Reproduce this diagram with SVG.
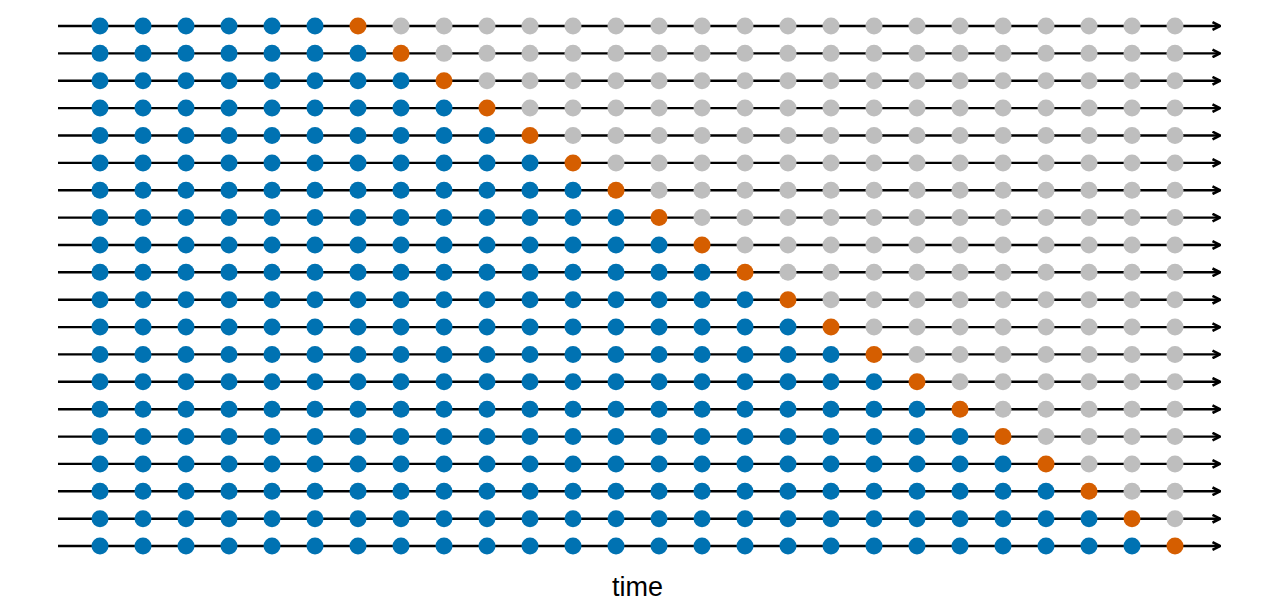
<svg xmlns="http://www.w3.org/2000/svg" width="1277" height="600" viewBox="0 0 1277 600">
<style>
.b{fill:#0072B2}.o{fill:#D55E00}.g{fill:#BEBEBE}
circle{r:8.5px}
.ln{stroke:#000;stroke-width:2.4;fill:none;marker-end:url(#ah)}
text{font-family:"Liberation Sans",Arial,sans-serif;font-size:27px;fill:#000}
</style>
<defs>
<marker id="ah" viewBox="0 0 10 10" refX="9" refY="5" markerWidth="10" markerHeight="10" markerUnits="userSpaceOnUse" orient="auto">
<path d="M1.5,1.2 L9,5 L1.5,8.8" fill="none" stroke="#000" stroke-width="2.6" stroke-linejoin="miter"/>
</marker>
</defs>
<rect width="1277" height="600" fill="#fff"/>
<g id="connectors">
<line class="ln" x1="58" y1="26" x2="1220" y2="26"/>
<line class="ln" x1="58" y1="53.37" x2="1220" y2="53.37"/>
<line class="ln" x1="58" y1="80.74" x2="1220" y2="80.74"/>
<line class="ln" x1="58" y1="108.1" x2="1220" y2="108.1"/>
<line class="ln" x1="58" y1="135.5" x2="1220" y2="135.5"/>
<line class="ln" x1="58" y1="162.9" x2="1220" y2="162.9"/>
<line class="ln" x1="58" y1="190.2" x2="1220" y2="190.2"/>
<line class="ln" x1="58" y1="217.6" x2="1220" y2="217.6"/>
<line class="ln" x1="58" y1="245" x2="1220" y2="245"/>
<line class="ln" x1="58" y1="272.3" x2="1220" y2="272.3"/>
<line class="ln" x1="58" y1="299.7" x2="1220" y2="299.7"/>
<line class="ln" x1="58" y1="327.1" x2="1220" y2="327.1"/>
<line class="ln" x1="58" y1="354.4" x2="1220" y2="354.4"/>
<line class="ln" x1="58" y1="381.8" x2="1220" y2="381.8"/>
<line class="ln" x1="58" y1="409.2" x2="1220" y2="409.2"/>
<line class="ln" x1="58" y1="436.6" x2="1220" y2="436.6"/>
<line class="ln" x1="58" y1="463.9" x2="1220" y2="463.9"/>
<line class="ln" x1="58" y1="491.3" x2="1220" y2="491.3"/>
<line class="ln" x1="58" y1="518.7" x2="1220" y2="518.7"/>
<line class="ln" x1="58" y1="546" x2="1220" y2="546"/>
</g>
<g id="row1" transform="translate(0,26)">
<circle class="b" cx="100" cy="0"/><circle class="b" cx="143" cy="0"/><circle class="b" cx="186" cy="0"/><circle class="b" cx="229" cy="0"/><circle class="b" cx="272" cy="0"/><circle class="b" cx="315" cy="0"/><circle class="o" cx="358" cy="0"/><circle class="g" cx="401" cy="0"/><circle class="g" cx="444" cy="0"/><circle class="g" cx="487" cy="0"/><circle class="g" cx="530" cy="0"/><circle class="g" cx="573" cy="0"/><circle class="g" cx="616" cy="0"/><circle class="g" cx="659" cy="0"/><circle class="g" cx="702" cy="0"/><circle class="g" cx="745" cy="0"/><circle class="g" cx="788" cy="0"/><circle class="g" cx="831" cy="0"/><circle class="g" cx="874" cy="0"/><circle class="g" cx="917" cy="0"/><circle class="g" cx="960" cy="0"/><circle class="g" cx="1003" cy="0"/><circle class="g" cx="1046" cy="0"/><circle class="g" cx="1089" cy="0"/><circle class="g" cx="1132" cy="0"/><circle class="g" cx="1175" cy="0"/>
</g>
<g id="row2" transform="translate(0,53.37)">
<circle class="b" cx="100" cy="0"/><circle class="b" cx="143" cy="0"/><circle class="b" cx="186" cy="0"/><circle class="b" cx="229" cy="0"/><circle class="b" cx="272" cy="0"/><circle class="b" cx="315" cy="0"/><circle class="b" cx="358" cy="0"/><circle class="o" cx="401" cy="0"/><circle class="g" cx="444" cy="0"/><circle class="g" cx="487" cy="0"/><circle class="g" cx="530" cy="0"/><circle class="g" cx="573" cy="0"/><circle class="g" cx="616" cy="0"/><circle class="g" cx="659" cy="0"/><circle class="g" cx="702" cy="0"/><circle class="g" cx="745" cy="0"/><circle class="g" cx="788" cy="0"/><circle class="g" cx="831" cy="0"/><circle class="g" cx="874" cy="0"/><circle class="g" cx="917" cy="0"/><circle class="g" cx="960" cy="0"/><circle class="g" cx="1003" cy="0"/><circle class="g" cx="1046" cy="0"/><circle class="g" cx="1089" cy="0"/><circle class="g" cx="1132" cy="0"/><circle class="g" cx="1175" cy="0"/>
</g>
<g id="row3" transform="translate(0,80.74)">
<circle class="b" cx="100" cy="0"/><circle class="b" cx="143" cy="0"/><circle class="b" cx="186" cy="0"/><circle class="b" cx="229" cy="0"/><circle class="b" cx="272" cy="0"/><circle class="b" cx="315" cy="0"/><circle class="b" cx="358" cy="0"/><circle class="b" cx="401" cy="0"/><circle class="o" cx="444" cy="0"/><circle class="g" cx="487" cy="0"/><circle class="g" cx="530" cy="0"/><circle class="g" cx="573" cy="0"/><circle class="g" cx="616" cy="0"/><circle class="g" cx="659" cy="0"/><circle class="g" cx="702" cy="0"/><circle class="g" cx="745" cy="0"/><circle class="g" cx="788" cy="0"/><circle class="g" cx="831" cy="0"/><circle class="g" cx="874" cy="0"/><circle class="g" cx="917" cy="0"/><circle class="g" cx="960" cy="0"/><circle class="g" cx="1003" cy="0"/><circle class="g" cx="1046" cy="0"/><circle class="g" cx="1089" cy="0"/><circle class="g" cx="1132" cy="0"/><circle class="g" cx="1175" cy="0"/>
</g>
<g id="row4" transform="translate(0,108.1)">
<circle class="b" cx="100" cy="0"/><circle class="b" cx="143" cy="0"/><circle class="b" cx="186" cy="0"/><circle class="b" cx="229" cy="0"/><circle class="b" cx="272" cy="0"/><circle class="b" cx="315" cy="0"/><circle class="b" cx="358" cy="0"/><circle class="b" cx="401" cy="0"/><circle class="b" cx="444" cy="0"/><circle class="o" cx="487" cy="0"/><circle class="g" cx="530" cy="0"/><circle class="g" cx="573" cy="0"/><circle class="g" cx="616" cy="0"/><circle class="g" cx="659" cy="0"/><circle class="g" cx="702" cy="0"/><circle class="g" cx="745" cy="0"/><circle class="g" cx="788" cy="0"/><circle class="g" cx="831" cy="0"/><circle class="g" cx="874" cy="0"/><circle class="g" cx="917" cy="0"/><circle class="g" cx="960" cy="0"/><circle class="g" cx="1003" cy="0"/><circle class="g" cx="1046" cy="0"/><circle class="g" cx="1089" cy="0"/><circle class="g" cx="1132" cy="0"/><circle class="g" cx="1175" cy="0"/>
</g>
<g id="row5" transform="translate(0,135.5)">
<circle class="b" cx="100" cy="0"/><circle class="b" cx="143" cy="0"/><circle class="b" cx="186" cy="0"/><circle class="b" cx="229" cy="0"/><circle class="b" cx="272" cy="0"/><circle class="b" cx="315" cy="0"/><circle class="b" cx="358" cy="0"/><circle class="b" cx="401" cy="0"/><circle class="b" cx="444" cy="0"/><circle class="b" cx="487" cy="0"/><circle class="o" cx="530" cy="0"/><circle class="g" cx="573" cy="0"/><circle class="g" cx="616" cy="0"/><circle class="g" cx="659" cy="0"/><circle class="g" cx="702" cy="0"/><circle class="g" cx="745" cy="0"/><circle class="g" cx="788" cy="0"/><circle class="g" cx="831" cy="0"/><circle class="g" cx="874" cy="0"/><circle class="g" cx="917" cy="0"/><circle class="g" cx="960" cy="0"/><circle class="g" cx="1003" cy="0"/><circle class="g" cx="1046" cy="0"/><circle class="g" cx="1089" cy="0"/><circle class="g" cx="1132" cy="0"/><circle class="g" cx="1175" cy="0"/>
</g>
<g id="row6" transform="translate(0,162.9)">
<circle class="b" cx="100" cy="0"/><circle class="b" cx="143" cy="0"/><circle class="b" cx="186" cy="0"/><circle class="b" cx="229" cy="0"/><circle class="b" cx="272" cy="0"/><circle class="b" cx="315" cy="0"/><circle class="b" cx="358" cy="0"/><circle class="b" cx="401" cy="0"/><circle class="b" cx="444" cy="0"/><circle class="b" cx="487" cy="0"/><circle class="b" cx="530" cy="0"/><circle class="o" cx="573" cy="0"/><circle class="g" cx="616" cy="0"/><circle class="g" cx="659" cy="0"/><circle class="g" cx="702" cy="0"/><circle class="g" cx="745" cy="0"/><circle class="g" cx="788" cy="0"/><circle class="g" cx="831" cy="0"/><circle class="g" cx="874" cy="0"/><circle class="g" cx="917" cy="0"/><circle class="g" cx="960" cy="0"/><circle class="g" cx="1003" cy="0"/><circle class="g" cx="1046" cy="0"/><circle class="g" cx="1089" cy="0"/><circle class="g" cx="1132" cy="0"/><circle class="g" cx="1175" cy="0"/>
</g>
<g id="row7" transform="translate(0,190.2)">
<circle class="b" cx="100" cy="0"/><circle class="b" cx="143" cy="0"/><circle class="b" cx="186" cy="0"/><circle class="b" cx="229" cy="0"/><circle class="b" cx="272" cy="0"/><circle class="b" cx="315" cy="0"/><circle class="b" cx="358" cy="0"/><circle class="b" cx="401" cy="0"/><circle class="b" cx="444" cy="0"/><circle class="b" cx="487" cy="0"/><circle class="b" cx="530" cy="0"/><circle class="b" cx="573" cy="0"/><circle class="o" cx="616" cy="0"/><circle class="g" cx="659" cy="0"/><circle class="g" cx="702" cy="0"/><circle class="g" cx="745" cy="0"/><circle class="g" cx="788" cy="0"/><circle class="g" cx="831" cy="0"/><circle class="g" cx="874" cy="0"/><circle class="g" cx="917" cy="0"/><circle class="g" cx="960" cy="0"/><circle class="g" cx="1003" cy="0"/><circle class="g" cx="1046" cy="0"/><circle class="g" cx="1089" cy="0"/><circle class="g" cx="1132" cy="0"/><circle class="g" cx="1175" cy="0"/>
</g>
<g id="row8" transform="translate(0,217.6)">
<circle class="b" cx="100" cy="0"/><circle class="b" cx="143" cy="0"/><circle class="b" cx="186" cy="0"/><circle class="b" cx="229" cy="0"/><circle class="b" cx="272" cy="0"/><circle class="b" cx="315" cy="0"/><circle class="b" cx="358" cy="0"/><circle class="b" cx="401" cy="0"/><circle class="b" cx="444" cy="0"/><circle class="b" cx="487" cy="0"/><circle class="b" cx="530" cy="0"/><circle class="b" cx="573" cy="0"/><circle class="b" cx="616" cy="0"/><circle class="o" cx="659" cy="0"/><circle class="g" cx="702" cy="0"/><circle class="g" cx="745" cy="0"/><circle class="g" cx="788" cy="0"/><circle class="g" cx="831" cy="0"/><circle class="g" cx="874" cy="0"/><circle class="g" cx="917" cy="0"/><circle class="g" cx="960" cy="0"/><circle class="g" cx="1003" cy="0"/><circle class="g" cx="1046" cy="0"/><circle class="g" cx="1089" cy="0"/><circle class="g" cx="1132" cy="0"/><circle class="g" cx="1175" cy="0"/>
</g>
<g id="row9" transform="translate(0,245)">
<circle class="b" cx="100" cy="0"/><circle class="b" cx="143" cy="0"/><circle class="b" cx="186" cy="0"/><circle class="b" cx="229" cy="0"/><circle class="b" cx="272" cy="0"/><circle class="b" cx="315" cy="0"/><circle class="b" cx="358" cy="0"/><circle class="b" cx="401" cy="0"/><circle class="b" cx="444" cy="0"/><circle class="b" cx="487" cy="0"/><circle class="b" cx="530" cy="0"/><circle class="b" cx="573" cy="0"/><circle class="b" cx="616" cy="0"/><circle class="b" cx="659" cy="0"/><circle class="o" cx="702" cy="0"/><circle class="g" cx="745" cy="0"/><circle class="g" cx="788" cy="0"/><circle class="g" cx="831" cy="0"/><circle class="g" cx="874" cy="0"/><circle class="g" cx="917" cy="0"/><circle class="g" cx="960" cy="0"/><circle class="g" cx="1003" cy="0"/><circle class="g" cx="1046" cy="0"/><circle class="g" cx="1089" cy="0"/><circle class="g" cx="1132" cy="0"/><circle class="g" cx="1175" cy="0"/>
</g>
<g id="row10" transform="translate(0,272.3)">
<circle class="b" cx="100" cy="0"/><circle class="b" cx="143" cy="0"/><circle class="b" cx="186" cy="0"/><circle class="b" cx="229" cy="0"/><circle class="b" cx="272" cy="0"/><circle class="b" cx="315" cy="0"/><circle class="b" cx="358" cy="0"/><circle class="b" cx="401" cy="0"/><circle class="b" cx="444" cy="0"/><circle class="b" cx="487" cy="0"/><circle class="b" cx="530" cy="0"/><circle class="b" cx="573" cy="0"/><circle class="b" cx="616" cy="0"/><circle class="b" cx="659" cy="0"/><circle class="b" cx="702" cy="0"/><circle class="o" cx="745" cy="0"/><circle class="g" cx="788" cy="0"/><circle class="g" cx="831" cy="0"/><circle class="g" cx="874" cy="0"/><circle class="g" cx="917" cy="0"/><circle class="g" cx="960" cy="0"/><circle class="g" cx="1003" cy="0"/><circle class="g" cx="1046" cy="0"/><circle class="g" cx="1089" cy="0"/><circle class="g" cx="1132" cy="0"/><circle class="g" cx="1175" cy="0"/>
</g>
<g id="row11" transform="translate(0,299.7)">
<circle class="b" cx="100" cy="0"/><circle class="b" cx="143" cy="0"/><circle class="b" cx="186" cy="0"/><circle class="b" cx="229" cy="0"/><circle class="b" cx="272" cy="0"/><circle class="b" cx="315" cy="0"/><circle class="b" cx="358" cy="0"/><circle class="b" cx="401" cy="0"/><circle class="b" cx="444" cy="0"/><circle class="b" cx="487" cy="0"/><circle class="b" cx="530" cy="0"/><circle class="b" cx="573" cy="0"/><circle class="b" cx="616" cy="0"/><circle class="b" cx="659" cy="0"/><circle class="b" cx="702" cy="0"/><circle class="b" cx="745" cy="0"/><circle class="o" cx="788" cy="0"/><circle class="g" cx="831" cy="0"/><circle class="g" cx="874" cy="0"/><circle class="g" cx="917" cy="0"/><circle class="g" cx="960" cy="0"/><circle class="g" cx="1003" cy="0"/><circle class="g" cx="1046" cy="0"/><circle class="g" cx="1089" cy="0"/><circle class="g" cx="1132" cy="0"/><circle class="g" cx="1175" cy="0"/>
</g>
<g id="row12" transform="translate(0,327.1)">
<circle class="b" cx="100" cy="0"/><circle class="b" cx="143" cy="0"/><circle class="b" cx="186" cy="0"/><circle class="b" cx="229" cy="0"/><circle class="b" cx="272" cy="0"/><circle class="b" cx="315" cy="0"/><circle class="b" cx="358" cy="0"/><circle class="b" cx="401" cy="0"/><circle class="b" cx="444" cy="0"/><circle class="b" cx="487" cy="0"/><circle class="b" cx="530" cy="0"/><circle class="b" cx="573" cy="0"/><circle class="b" cx="616" cy="0"/><circle class="b" cx="659" cy="0"/><circle class="b" cx="702" cy="0"/><circle class="b" cx="745" cy="0"/><circle class="b" cx="788" cy="0"/><circle class="o" cx="831" cy="0"/><circle class="g" cx="874" cy="0"/><circle class="g" cx="917" cy="0"/><circle class="g" cx="960" cy="0"/><circle class="g" cx="1003" cy="0"/><circle class="g" cx="1046" cy="0"/><circle class="g" cx="1089" cy="0"/><circle class="g" cx="1132" cy="0"/><circle class="g" cx="1175" cy="0"/>
</g>
<g id="row13" transform="translate(0,354.4)">
<circle class="b" cx="100" cy="0"/><circle class="b" cx="143" cy="0"/><circle class="b" cx="186" cy="0"/><circle class="b" cx="229" cy="0"/><circle class="b" cx="272" cy="0"/><circle class="b" cx="315" cy="0"/><circle class="b" cx="358" cy="0"/><circle class="b" cx="401" cy="0"/><circle class="b" cx="444" cy="0"/><circle class="b" cx="487" cy="0"/><circle class="b" cx="530" cy="0"/><circle class="b" cx="573" cy="0"/><circle class="b" cx="616" cy="0"/><circle class="b" cx="659" cy="0"/><circle class="b" cx="702" cy="0"/><circle class="b" cx="745" cy="0"/><circle class="b" cx="788" cy="0"/><circle class="b" cx="831" cy="0"/><circle class="o" cx="874" cy="0"/><circle class="g" cx="917" cy="0"/><circle class="g" cx="960" cy="0"/><circle class="g" cx="1003" cy="0"/><circle class="g" cx="1046" cy="0"/><circle class="g" cx="1089" cy="0"/><circle class="g" cx="1132" cy="0"/><circle class="g" cx="1175" cy="0"/>
</g>
<g id="row14" transform="translate(0,381.8)">
<circle class="b" cx="100" cy="0"/><circle class="b" cx="143" cy="0"/><circle class="b" cx="186" cy="0"/><circle class="b" cx="229" cy="0"/><circle class="b" cx="272" cy="0"/><circle class="b" cx="315" cy="0"/><circle class="b" cx="358" cy="0"/><circle class="b" cx="401" cy="0"/><circle class="b" cx="444" cy="0"/><circle class="b" cx="487" cy="0"/><circle class="b" cx="530" cy="0"/><circle class="b" cx="573" cy="0"/><circle class="b" cx="616" cy="0"/><circle class="b" cx="659" cy="0"/><circle class="b" cx="702" cy="0"/><circle class="b" cx="745" cy="0"/><circle class="b" cx="788" cy="0"/><circle class="b" cx="831" cy="0"/><circle class="b" cx="874" cy="0"/><circle class="o" cx="917" cy="0"/><circle class="g" cx="960" cy="0"/><circle class="g" cx="1003" cy="0"/><circle class="g" cx="1046" cy="0"/><circle class="g" cx="1089" cy="0"/><circle class="g" cx="1132" cy="0"/><circle class="g" cx="1175" cy="0"/>
</g>
<g id="row15" transform="translate(0,409.2)">
<circle class="b" cx="100" cy="0"/><circle class="b" cx="143" cy="0"/><circle class="b" cx="186" cy="0"/><circle class="b" cx="229" cy="0"/><circle class="b" cx="272" cy="0"/><circle class="b" cx="315" cy="0"/><circle class="b" cx="358" cy="0"/><circle class="b" cx="401" cy="0"/><circle class="b" cx="444" cy="0"/><circle class="b" cx="487" cy="0"/><circle class="b" cx="530" cy="0"/><circle class="b" cx="573" cy="0"/><circle class="b" cx="616" cy="0"/><circle class="b" cx="659" cy="0"/><circle class="b" cx="702" cy="0"/><circle class="b" cx="745" cy="0"/><circle class="b" cx="788" cy="0"/><circle class="b" cx="831" cy="0"/><circle class="b" cx="874" cy="0"/><circle class="b" cx="917" cy="0"/><circle class="o" cx="960" cy="0"/><circle class="g" cx="1003" cy="0"/><circle class="g" cx="1046" cy="0"/><circle class="g" cx="1089" cy="0"/><circle class="g" cx="1132" cy="0"/><circle class="g" cx="1175" cy="0"/>
</g>
<g id="row16" transform="translate(0,436.6)">
<circle class="b" cx="100" cy="0"/><circle class="b" cx="143" cy="0"/><circle class="b" cx="186" cy="0"/><circle class="b" cx="229" cy="0"/><circle class="b" cx="272" cy="0"/><circle class="b" cx="315" cy="0"/><circle class="b" cx="358" cy="0"/><circle class="b" cx="401" cy="0"/><circle class="b" cx="444" cy="0"/><circle class="b" cx="487" cy="0"/><circle class="b" cx="530" cy="0"/><circle class="b" cx="573" cy="0"/><circle class="b" cx="616" cy="0"/><circle class="b" cx="659" cy="0"/><circle class="b" cx="702" cy="0"/><circle class="b" cx="745" cy="0"/><circle class="b" cx="788" cy="0"/><circle class="b" cx="831" cy="0"/><circle class="b" cx="874" cy="0"/><circle class="b" cx="917" cy="0"/><circle class="b" cx="960" cy="0"/><circle class="o" cx="1003" cy="0"/><circle class="g" cx="1046" cy="0"/><circle class="g" cx="1089" cy="0"/><circle class="g" cx="1132" cy="0"/><circle class="g" cx="1175" cy="0"/>
</g>
<g id="row17" transform="translate(0,463.9)">
<circle class="b" cx="100" cy="0"/><circle class="b" cx="143" cy="0"/><circle class="b" cx="186" cy="0"/><circle class="b" cx="229" cy="0"/><circle class="b" cx="272" cy="0"/><circle class="b" cx="315" cy="0"/><circle class="b" cx="358" cy="0"/><circle class="b" cx="401" cy="0"/><circle class="b" cx="444" cy="0"/><circle class="b" cx="487" cy="0"/><circle class="b" cx="530" cy="0"/><circle class="b" cx="573" cy="0"/><circle class="b" cx="616" cy="0"/><circle class="b" cx="659" cy="0"/><circle class="b" cx="702" cy="0"/><circle class="b" cx="745" cy="0"/><circle class="b" cx="788" cy="0"/><circle class="b" cx="831" cy="0"/><circle class="b" cx="874" cy="0"/><circle class="b" cx="917" cy="0"/><circle class="b" cx="960" cy="0"/><circle class="b" cx="1003" cy="0"/><circle class="o" cx="1046" cy="0"/><circle class="g" cx="1089" cy="0"/><circle class="g" cx="1132" cy="0"/><circle class="g" cx="1175" cy="0"/>
</g>
<g id="row18" transform="translate(0,491.3)">
<circle class="b" cx="100" cy="0"/><circle class="b" cx="143" cy="0"/><circle class="b" cx="186" cy="0"/><circle class="b" cx="229" cy="0"/><circle class="b" cx="272" cy="0"/><circle class="b" cx="315" cy="0"/><circle class="b" cx="358" cy="0"/><circle class="b" cx="401" cy="0"/><circle class="b" cx="444" cy="0"/><circle class="b" cx="487" cy="0"/><circle class="b" cx="530" cy="0"/><circle class="b" cx="573" cy="0"/><circle class="b" cx="616" cy="0"/><circle class="b" cx="659" cy="0"/><circle class="b" cx="702" cy="0"/><circle class="b" cx="745" cy="0"/><circle class="b" cx="788" cy="0"/><circle class="b" cx="831" cy="0"/><circle class="b" cx="874" cy="0"/><circle class="b" cx="917" cy="0"/><circle class="b" cx="960" cy="0"/><circle class="b" cx="1003" cy="0"/><circle class="b" cx="1046" cy="0"/><circle class="o" cx="1089" cy="0"/><circle class="g" cx="1132" cy="0"/><circle class="g" cx="1175" cy="0"/>
</g>
<g id="row19" transform="translate(0,518.7)">
<circle class="b" cx="100" cy="0"/><circle class="b" cx="143" cy="0"/><circle class="b" cx="186" cy="0"/><circle class="b" cx="229" cy="0"/><circle class="b" cx="272" cy="0"/><circle class="b" cx="315" cy="0"/><circle class="b" cx="358" cy="0"/><circle class="b" cx="401" cy="0"/><circle class="b" cx="444" cy="0"/><circle class="b" cx="487" cy="0"/><circle class="b" cx="530" cy="0"/><circle class="b" cx="573" cy="0"/><circle class="b" cx="616" cy="0"/><circle class="b" cx="659" cy="0"/><circle class="b" cx="702" cy="0"/><circle class="b" cx="745" cy="0"/><circle class="b" cx="788" cy="0"/><circle class="b" cx="831" cy="0"/><circle class="b" cx="874" cy="0"/><circle class="b" cx="917" cy="0"/><circle class="b" cx="960" cy="0"/><circle class="b" cx="1003" cy="0"/><circle class="b" cx="1046" cy="0"/><circle class="b" cx="1089" cy="0"/><circle class="o" cx="1132" cy="0"/><circle class="g" cx="1175" cy="0"/>
</g>
<g id="row20" transform="translate(0,546)">
<circle class="b" cx="100" cy="0"/><circle class="b" cx="143" cy="0"/><circle class="b" cx="186" cy="0"/><circle class="b" cx="229" cy="0"/><circle class="b" cx="272" cy="0"/><circle class="b" cx="315" cy="0"/><circle class="b" cx="358" cy="0"/><circle class="b" cx="401" cy="0"/><circle class="b" cx="444" cy="0"/><circle class="b" cx="487" cy="0"/><circle class="b" cx="530" cy="0"/><circle class="b" cx="573" cy="0"/><circle class="b" cx="616" cy="0"/><circle class="b" cx="659" cy="0"/><circle class="b" cx="702" cy="0"/><circle class="b" cx="745" cy="0"/><circle class="b" cx="788" cy="0"/><circle class="b" cx="831" cy="0"/><circle class="b" cx="874" cy="0"/><circle class="b" cx="917" cy="0"/><circle class="b" cx="960" cy="0"/><circle class="b" cx="1003" cy="0"/><circle class="b" cx="1046" cy="0"/><circle class="b" cx="1089" cy="0"/><circle class="b" cx="1132" cy="0"/><circle class="o" cx="1175" cy="0"/>
</g>
<g id="axis-label">
<text x="637.5" y="596" text-anchor="middle">time</text>
</g>
</svg>
